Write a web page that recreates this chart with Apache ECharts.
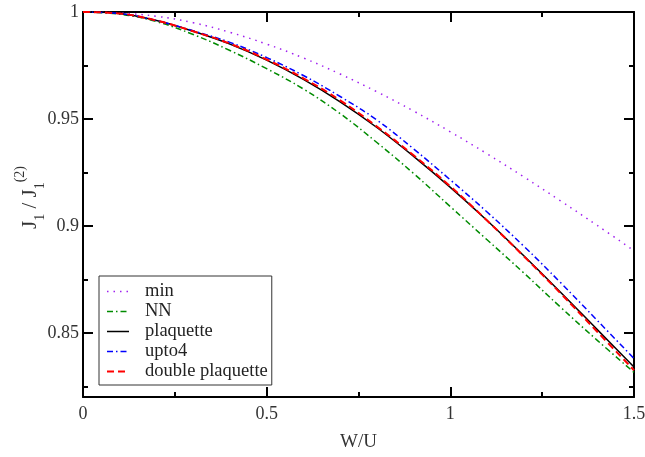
<!DOCTYPE html>
<html><head><meta charset="utf-8">
<script src="https://cdn.jsdelivr.net/npm/echarts@6/dist/echarts.min.js"></script>
<style>html,body{margin:0;padding:0;background:#fff}#c{width:645px;height:457px}</style>
</head><body><div id="c"></div>
<script>
var xValues = [0, 0.1, 0.2, 0.3, 0.4, 0.5, 0.6, 0.7, 0.8, 0.9, 1.0, 1.1, 1.2, 1.3, 1.4, 1.5];
var minVals = [1.0, 0.9995, 0.998, 0.995, 0.9905, 0.985, 0.9785, 0.971, 0.9627, 0.9537, 0.944, 0.9337, 0.9229, 0.9117, 0.9002, 0.8884];
var nnVals = [1.0, 0.999, 0.9955, 0.9895, 0.982, 0.9735, 0.964, 0.9525, 0.939, 0.9245, 0.909, 0.8935, 0.878, 0.862, 0.8465, 0.8315];
var plaqVals = [1.0, 0.9993, 0.996, 0.991, 0.985, 0.9775, 0.9685, 0.958, 0.946, 0.9325, 0.918, 0.9025, 0.886, 0.869, 0.8515, 0.834];
var upto4Vals = [1.0, 0.9993, 0.996, 0.9912, 0.9858, 0.9787, 0.9703, 0.9605, 0.9495, 0.936, 0.9215, 0.9065, 0.8905, 0.8735, 0.8558, 0.838];
var dplaqVals = [1.0, 0.9993, 0.996, 0.991, 0.9852, 0.9778, 0.969, 0.9587, 0.9465, 0.933, 0.9185, 0.9025, 0.8858, 0.8685, 0.8505, 0.8325];
var seriesNames = ['min', 'NN', 'plaquette', 'upto4', 'double plaquette'];
var yMajor = [0.85, 0.9, 0.95, 1.0];
var yMinor = [0.825, 0.875, 0.925, 0.975];

var FONT = 'Liberation Serif';
function pairs(v){ return xValues.map(function(x,i){ return [x, v[i]]; }); }
var styles = [
  {color:'#a020f0', type:[1.5,5], width:1.5},
  {color:'#008b00', type:[6,3,1.5,3], width:1.5},
  {color:'#000000', type:'solid', width:1.5},
  {color:'#0000ff', type:[6,3,1.5,3], width:1.5},
  {color:'#ff0000', type:[7,4], width:2}
];
var allVals = [minVals, nnVals, plaqVals, upto4Vals, dplaqVals];
var series = seriesNames.map(function(n,i){
  return {name:n, type:'line', xAxisIndex:0, yAxisIndex:0, data:pairs(allVals[i]), smooth:0.4, symbol:'none',
    lineStyle:{color:styles[i].color, type:styles[i].type, width:styles[i].width}, itemStyle:{color:styles[i].color}};
});
var legendData = seriesNames.map(function(n,i){
  return {name:n, itemStyle:{opacity:0}, lineStyle:{color:styles[i].color, type:styles[i].type, width:styles[i].width}};
});
function yax(pos, vals, len, labels, line){
  return {type:'value', position:pos, min:0.82, max:1.0, splitLine:{show:false},
    axisLine:{show:line, lineStyle:{color:'#000', width:2}},
    axisTick:{show:true, inside:true, length:len, customValues:vals, lineStyle:{color:'#000', width:2}},
    axisLabel:{show:labels, customValues:vals, margin:4, color:'#333', fontFamily:FONT, fontSize:18,
      formatter:function(v){ return String(+v.toFixed(3)); }}};
}
var ya = yax('left', yMajor, 10, true, true);
ya.name = 'J{sub|1} / J{sub|1}{sup|(2)}';
ya.nameLocation = 'middle';
ya.nameGap = 36;
ya.nameMoveOverlap = false;
ya.nameTextStyle = {fontFamily:FONT, fontSize:21, color:'#333', lineHeight:34, padding:[0,0,0,14],
  rich:{sub:{fontFamily:FONT, fontSize:14, color:'#333', verticalAlign:'bottom', lineHeight:34},
        sup:{fontFamily:FONT, fontSize:14, color:'#333', verticalAlign:'top', lineHeight:34}}};
var option = {
  animation:false,
  grid:{left:83, right:11, top:12, bottom:60, containLabel:false, outerBoundsMode:'none'},
  legend:{orient:'vertical', left:99, top:276, data:legendData, itemWidth:22, itemHeight:14, itemGap:1,
    padding:[6,4,4,7], borderColor:'#333', borderWidth:1, backgroundColor:'#fff',
    itemStyle:{opacity:0},
    textStyle:{fontFamily:FONT, fontSize:18.5, lineHeight:18, color:'#222', padding:[0,0,0,11]}},
  xAxis:[
    {type:'value', position:'bottom', min:0, max:1.5, interval:0.5, splitLine:{show:false},
     axisLine:{lineStyle:{color:'#000', width:2}},
     axisTick:{inside:true, length:10, lineStyle:{color:'#000', width:2}},
     minorTick:{show:true, splitNumber:2, length:5, lineStyle:{color:'#000', width:2}},
     axisLabel:{margin:8, color:'#333', fontFamily:FONT, fontSize:18, formatter:function(v){return String(v);}},
     name:'W/U', nameLocation:'middle', nameGap:36, nameTextStyle:{fontFamily:FONT, fontSize:19, color:'#333'}},
    {type:'value', position:'top', min:0, max:1.5, interval:0.5, splitLine:{show:false},
     axisLine:{lineStyle:{color:'#000', width:2}},
     axisTick:{inside:true, length:10, lineStyle:{color:'#000', width:2}},
     minorTick:{show:true, splitNumber:2, length:5, lineStyle:{color:'#000', width:2}},
     axisLabel:{show:false}}
  ],
  yAxis:[ ya, yax('left', yMinor, 5, false, false), yax('right', yMajor, 10, false, true), yax('right', yMinor, 5, false, false) ],
  series:series
};
var chart = echarts.init(document.getElementById('c'), null, {renderer:'canvas'});
chart.setOption(option);
</script></body></html>
